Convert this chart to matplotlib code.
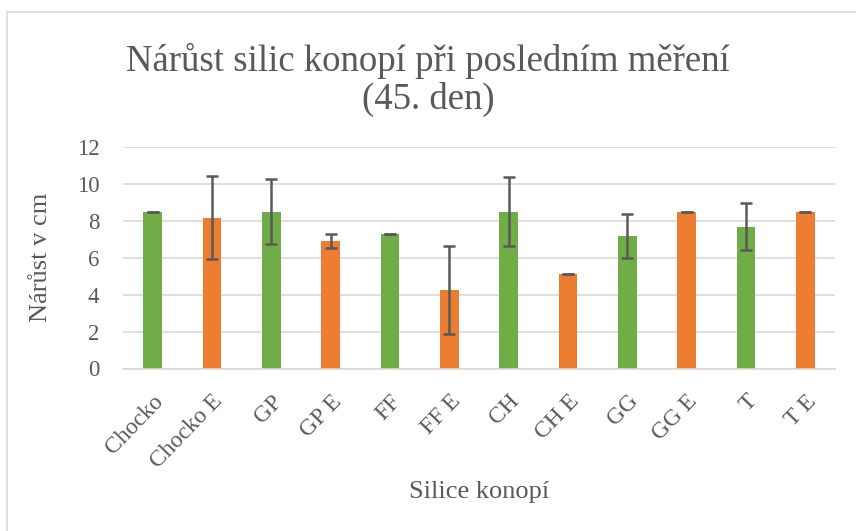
import matplotlib
matplotlib.use('Agg')
import matplotlib.pyplot as plt
from matplotlib.patches import Rectangle

# data
categories = ['Chocko', 'Chocko E', 'GP', 'GP E', 'FF', 'FF E',
              'CH', 'CH E', 'GG', 'GG E', 'T', 'T E']
values = [8.5, 8.18, 8.5, 6.93, 7.27, 4.27, 8.5, 5.14, 7.2, 8.5, 7.69, 8.5]
errors = [0, 2.23, 1.78, 0.38, 0, 2.38, 1.85, 0, 1.19, 0, 1.28, 0]
yticks = [0, 2, 4, 6, 8, 10, 12]

green = '#70ad47'
orange = '#ed7d31'
txt = '#595959'
colors = [green if i % 2 == 0 else orange for i in range(len(categories))]

plt.rcParams['font.family'] = ['Liberation Serif', 'DejaVu Serif']

fig = plt.figure(figsize=(8.56, 5.31), dpi=100)
ax = fig.add_axes([123/856, 1-368.5/531, (835-123)/856, (368.5-147)/531])

# chart area border (runs off the right and bottom edge)
fig.patches.append(Rectangle((7/856, -0.1), 1.2, 1.1-12/531, transform=fig.transFigure,
                             fill=False, edgecolor='#d9d9d9', linewidth=1.2))

x = range(len(categories))
ax.bar(x, values, width=0.31, color=colors, zorder=2,
       yerr=errors, error_kw=dict(ecolor='#595959', elinewidth=1.8, capsize=4.5, capthick=1.8))

ax.set_xlim(-0.5, len(categories) - 0.5)
ax.set_ylim(0, 12)
ax.set_yticks(yticks)
ax.yaxis.grid(True, color='#d9d9d9', linewidth=1.2, zorder=0)
ax.set_axisbelow(True)
for s in ['top', 'right', 'left']:
    ax.spines[s].set_visible(False)
ax.spines['bottom'].set_color('#d9d9d9')
ax.spines['bottom'].set_linewidth(1.2)
ax.tick_params(axis='both', length=0, labelcolor=txt)
ax.tick_params(axis='y', pad=17, labelsize=16.5)
ax.set_xticks(list(x))
ax.set_xticklabels(categories, rotation=46, ha='right', va='top', rotation_mode='anchor')
ax.tick_params(axis='x', pad=16, labelsize=17)

ax.set_ylabel('Nárůst v cm', fontsize=19, color=txt)
ax.yaxis.set_label_coords(-0.10, 0.5)
ax.set_xlabel('Silice konopí', fontsize=19, color=txt, va='center')
ax.xaxis.set_label_coords(0.5, -0.557)
fig.text(0.5, 1-80/531, 'Nárůst silic konopí při posledním měření\n(45. den)',
         ha='center', va='center', fontsize=26.5, color=txt, linespacing=1.1)

fig.savefig('out.png', dpi=100)
